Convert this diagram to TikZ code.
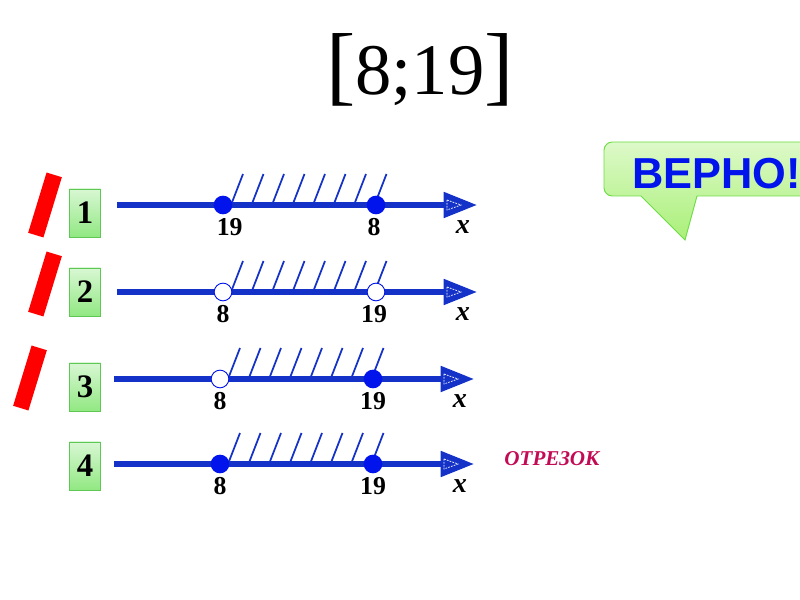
\documentclass[tikz,border=0pt]{standalone}
\usepackage{fontspec}
\setmainfont{Liberation Serif}
\newfontfamily\headfont{Liberation Sans}
\usetikzlibrary{positioning,arrows.meta}
\definecolor{AxisBlue}{RGB}{20,50,200}
\definecolor{DotBlue}{RGB}{0,20,235}
\definecolor{BoxGreen}{RGB}{145,232,130}
\definecolor{BoxEdge}{RGB}{95,200,85}
\definecolor{BubbleGreen}{RGB}{170,240,120}
\definecolor{BubbleEdge}{RGB}{110,220,70}
\definecolor{WordRed}{RGB}{195,10,85}

\begin{document}
\begin{tikzpicture}[x=0.03cm, y=-0.03cm,
  axis/.style={line width=4.3pt, AxisBlue, -{Triangle[length=1.0cm, width=0.75cm]}},
  hatch/.style={line width=1.5pt, AxisBlue},
  fulldot/.style={circle, fill=DotBlue, inner sep=0pt, minimum size=0.56cm},
  opendot/.style={circle, draw=DotBlue, line width=0.8pt, fill=white, inner sep=0pt, minimum size=0.53cm},
  numlbl/.style={font=\fontsize{22}{24}\bfseries\selectfont, inner sep=0pt},
  varlbl/.style={font=\fontsize{24}{26}\bfseries\itshape\selectfont, inner sep=0pt},
  numbox/.style={draw=BoxEdge, line width=0.6pt, top color=BoxGreen!35, bottom color=BoxGreen, minimum width=0.93cm, minimum height=1.44cm, inner sep=0pt, font=\fontsize{28}{30}\bfseries\selectfont},
  redbar/.style={fill=red, minimum width=0.48cm, minimum height=1.89cm, inner sep=0pt, rotate=-17},
  bubble/.style={draw=BubbleEdge, line width=0.8pt, top color=BubbleGreen!40, bottom color=BubbleGreen}]
  \useasboundingbox (0,0) rectangle (800,600);

  % title
  \node[anchor=base, inner sep=0pt] (title) at (420,95)
    {{\fontsize{75}{80}\selectfont[}\fontsize{62}{66}\selectfont 8;19{\fontsize{75}{80}\selectfont]}};

  % number lines
  \foreach \n/\y/\s in {1/205/0, 2/292/0, 3/379/-3, 4/464/-3} {
    \coordinate (s\n) at (117+\s,\y);
    \coordinate (e\n) at (477+\s,\y);
    \foreach \k in {0,...,7}
      \draw[hatch] (231+\s+20.5*\k,\y) -- ++(12,-31);
    \draw[axis] (s\n) -- (e\n);
    \draw[white, line width=0.6pt, dash pattern=on 1.5pt off 1pt] (447+\s,\y-5) -- (461+\s,\y) -- (447+\s,\y+5) -- cycle;
    \node[varlbl] (x\n) at (463+\s,\y+22) {x};
  }

  \node[fulldot] (a1) at (223,205) {};
  \node[fulldot] (b1) at (376,205) {};
  \node[numlbl, below=0.12cm of a1, xshift=0.2cm] (la1) {19};
  \node[numlbl, below=0.12cm of b1, xshift=-0.06cm] (lb1) {8};

  \node[opendot] (a2) at (223,292) {};
  \node[opendot] (b2) at (376,292) {};
  \node[numlbl, below=0.12cm of a2] (la2) {8};
  \node[numlbl, below=0.12cm of b2, xshift=-0.06cm] (lb2) {19};

  \node[opendot] (a3) at (220,379) {};
  \node[fulldot] (b3) at (373,379) {};
  \node[numlbl, below=0.12cm of a3] (la3) {8};
  \node[numlbl, below=0.12cm of b3] (lb3) {19};

  \node[fulldot] (a4) at (220,464) {};
  \node[fulldot] (b4) at (373,464) {};
  \node[numlbl, below=0.12cm of a4] (la4) {8};
  \node[numlbl, below=0.12cm of b4] (lb4) {19};

  % answer boxes and marks
  \node[numbox] (box1) at (85,213) {1};
  \node[numbox] (box2) at (85,292) {2};
  \node[numbox] (box3) at (85,387) {3};
  \node[numbox] (box4) at (85,466) {4};
  \node[redbar] (bar1) at (45,205) {};
  \node[redbar] (bar2) at (45,284) {};
  \node[redbar] (bar3) at (30,378) {};

  \node[font=\fontsize{18}{20}\bfseries\itshape\selectfont, text=WordRed] (segword) at (552,459) {ОТРЕЗОК};

  % callout
  \draw[bubble] (697,196) -- (685,240) -- (641,196) [rounded corners=0.25cm] -- (604,196) -- (604,142) -- (840,142) -- (840,196) [sharp corners] -- cycle;
  \node[font=\headfont\fontsize{37}{40}\bfseries\selectfont, text=DotBlue, anchor=west, inner sep=0pt] (verdict) at (632,174) {ВЕРНО!};
\end{tikzpicture}
\end{document}
